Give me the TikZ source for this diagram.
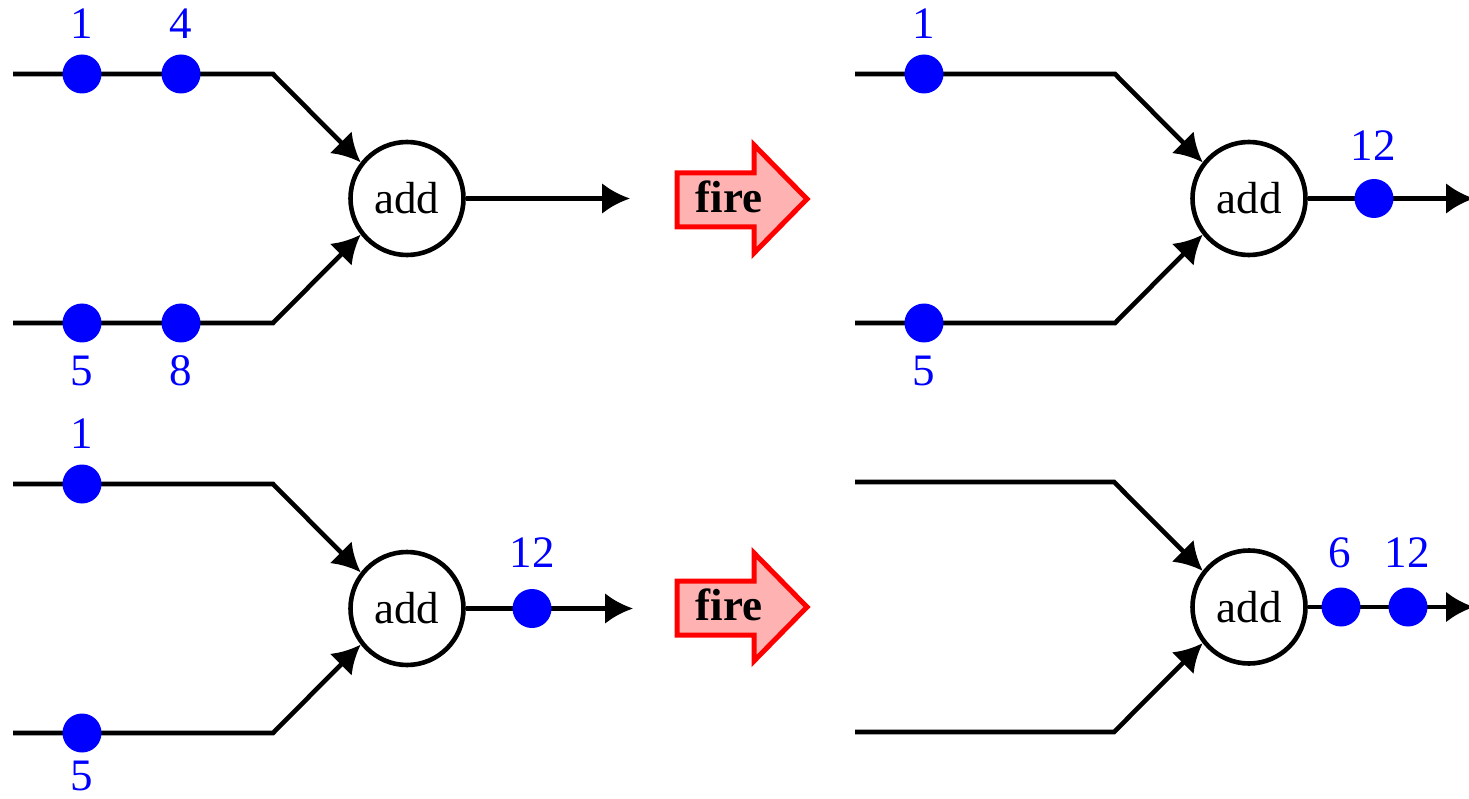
\documentclass[tikz,border=0pt]{standalone}
\usepackage{fontspec}
\setmainfont{Liberation Serif}
\usetikzlibrary{arrows.meta}
\begin{document}
\begin{tikzpicture}[x=1pt,y=-1pt,
  wire/.style={line width=4.6pt, line join=miter},
  feed/.style={wire, -{Latex[length=28pt,width=31pt]}},
  op/.style={circle, draw, line width=4.6pt, minimum size=113pt, inner sep=0pt,
             font=\fontsize{45}{54}\selectfont},
  token/.style={circle, fill=blue, minimum size=39pt, inner sep=0pt},
  val/.style={text=blue, inner sep=0pt, font=\fontsize{45}{54}\selectfont},
  firearrow/.style={draw=red, fill=red!30, line width=5pt, line join=miter},
  firetext/.style={inner sep=0pt, font=\fontsize{45}{54}\selectfont\bfseries}]
\useasboundingbox (0,0) rectangle (1469,799);

% ---------- adder nodes ----------
\node[op] (tl) at (407,198.5) {add};
\node[op] (tr) at (1249,198.5) {add};
\node[op] (bl) at (407,608.5) {add};
\node[op] (br) at (1249,607) {add};

% ---------- wire coordinates ----------
\coordinate (tl-s1) at (13,74);   \coordinate (tl-b1) at (273,74);
\coordinate (tl-s2) at (13,323);  \coordinate (tl-b2) at (273,323);
\coordinate (tl-o)  at (630,198.5);
\coordinate (tr-s1) at (855,74);  \coordinate (tr-b1) at (1115,74);
\coordinate (tr-s2) at (855,323); \coordinate (tr-b2) at (1115,323);
\coordinate (tr-o)  at (1474,198.5);
\coordinate (bl-s1) at (13,484);  \coordinate (bl-b1) at (273,484);
\coordinate (bl-s2) at (13,733);  \coordinate (bl-b2) at (273,733);
\coordinate (bl-o)  at (633,608.5);
\coordinate (br-s1) at (855,482); \coordinate (br-b1) at (1114,482);
\coordinate (br-s2) at (855,732); \coordinate (br-b2) at (1114,732);
\coordinate (br-o)  at (1474,607);

% ---------- wires ----------
\foreach \p in {tl,tr,bl,br}{
  \draw[feed] (\p-s1) -- (\p-b1) -- (\p.142);
  \draw[feed] (\p-s2) -- (\p-b2) -- (\p.218);
  \draw[feed] (\p.east) -- (\p-o);
}

% ---------- tokens and their values ----------
% before firing
\node[token] (tl-t1) at (82,74) {};
\node[token] (tl-t2) at (181,74) {};
\node[token] (tl-t3) at (82,323) {};
\node[token] (tl-t4) at (181,323) {};
\node[val] (tl-v1) at (82,24) {1};
\node[val] (tl-v2) at (181,24) {4};
\node[val] (tl-v3) at (82,371) {5};
\node[val] (tl-v4) at (181,371) {8};

% after first firing
\node[token] (tr-t1) at (924,74) {};
\node[token] (tr-t3) at (924,323) {};
\node[token] (tr-t5) at (1374,198.5) {};
\node[val] (tr-v1) at (924,24) {1};
\node[val] (tr-v3) at (924,371) {5};
\node[val] (tr-v5) at (1373,146) {12};

% before second firing
\node[token] (bl-t1) at (82,484) {};
\node[token] (bl-t3) at (82,733) {};
\node[token] (bl-t5) at (532,608.5) {};
\node[val] (bl-v1) at (82,434) {1};
\node[val] (bl-v3) at (82,776) {5};
\node[val] (bl-v5) at (532,553) {12};

% after second firing
\node[token] (br-t5) at (1341,607) {};
\node[token] (br-t6) at (1408,607) {};
\node[val] (br-v5) at (1340,553) {6};
\node[val] (br-v6) at (1407,553) {12};

% ---------- fire arrows ----------
\draw[firearrow] (677,173) -- (754,173) -- (754,145) -- (807,199)
  -- (754,253) -- (754,227) -- (677,227) -- cycle;
\node[firetext] (fire1) at (729,197) {fire};

\draw[firearrow] (677,581) -- (754,581) -- (754,553) -- (807,607)
  -- (754,661) -- (754,635) -- (677,635) -- cycle;
\node[firetext] (fire2) at (729,605) {fire};
\end{tikzpicture}
\end{document}
